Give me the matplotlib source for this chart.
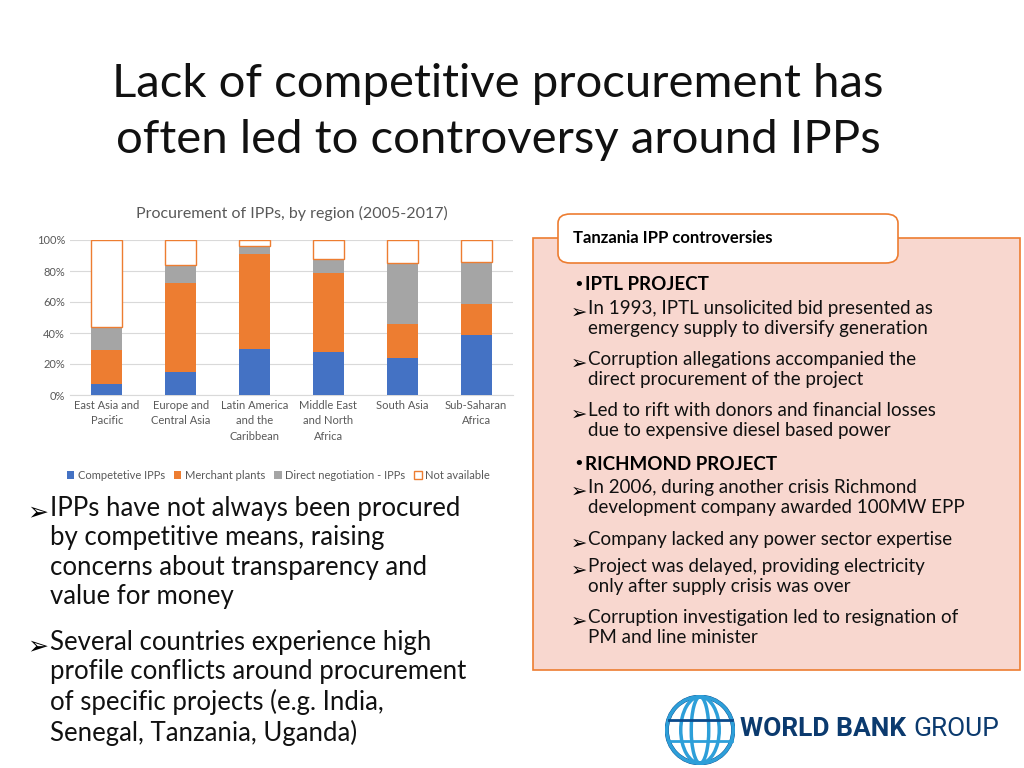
import numpy as np
import matplotlib.pyplot as plt
from matplotlib.patches import FancyBboxPatch, Rectangle, Circle, Arc

regions = ["East Asia and\nPacific", "Europe and\nCentral Asia", "Latin America\nand the\nCaribbean",
           "Middle East\nand North\nAfrica", "South Asia", "Sub-Saharan\nAfrica"]
competitive = [7, 15, 30, 28, 24, 39]
merchant = [22, 57, 61, 51, 22, 20]
direct = [15, 12, 5, 9, 39, 27]
not_avail = [56, 16, 4, 12, 15, 14]

FONT = "Lato"
fig = plt.figure(figsize=(10.24, 7.68), dpi=100)
W, H = 1024, 768
def fx(px): return px / W
def fy(py): return 1 - py / H

# title
fig.text(fx(498), fy(112), "Lack of competitive procurement has\noften led to controversy around IPPs",
         ha="center", va="center", fontsize=34, family=FONT, linespacing=1.4, color="#111111")

# chart
ax = fig.add_axes([fx(70), fy(395), fx(513) - fx(70), fy(240) - fy(395)])
x = np.arange(len(regions))
bw = 0.42
b1 = np.array(competitive)
b2 = b1 + np.array(merchant)
b3 = b2 + np.array(direct)
ax.bar(x, competitive, bw, color="#4472c4", label="Competetive IPPs", zorder=3)
ax.bar(x, merchant, bw, bottom=b1, color="#ed7d31", label="Merchant plants", zorder=3)
ax.bar(x, direct, bw, bottom=b2, color="#a5a5a5", label="Direct negotiation - IPPs", zorder=3)
ax.bar(x, not_avail, bw, bottom=b3, color="white", edgecolor="#ed7d31", lw=1,
       label="Not available", zorder=3)
ax.set_ylim(0, 100)
ax.set_xlim(-0.5, len(regions) - 0.5)
ax.set_yticks(range(0, 101, 20))
ax.set_yticklabels([f"{v}%" for v in range(0, 101, 20)], fontsize=8, color="#595959", family=FONT)
ax.set_xticks(x)
ax.set_xticklabels(regions, fontsize=8, color="#595959", linespacing=1.5, family=FONT)
ax.tick_params(length=0)
ax.grid(axis="y", color="#d9d9d9", lw=0.8, zorder=0)
for s in ax.spines.values():
    s.set_visible(False)
ax.spines["bottom"].set_visible(True)
ax.spines["bottom"].set_color("#d9d9d9")
ax.set_title("Procurement of IPPs, by region (2005-2017)", fontsize=11.5, color="#595959",
             family=FONT, pad=16)
ax.legend(loc="upper center", bbox_to_anchor=(0.47, -0.42), ncol=4, frameon=False,
          prop={"family": FONT, "size": 8}, handlelength=0.7, handletextpad=0.3,
          columnspacing=0.8, labelcolor="#595959")

# left bullets
left = [("IPPs have not always been procured\nby competitive means, raising\nconcerns about transparency and\nvalue for money", 512),
        ("Several countries experience high\nprofile conflicts around procurement\nof specific projects (e.g. India,\nSenegal, Tanzania, Uganda)", 646)]
for txt, py in left:
    fig.text(fx(27), fy(py), "\u27a2", fontsize=18, va="center", family="DejaVu Sans")
    fig.text(fx(50), fy(py) + 0.021, txt, fontsize=18.5, va="top", family=FONT,
             linespacing=1.22, color="#111111")

# right box
fig.patches.append(Rectangle((fx(533), fy(670)), fx(1020) - fx(533), fy(238) - fy(670),
                             transform=fig.transFigure, facecolor="#f8d7cf", edgecolor="#ed7d31", lw=1.2))
fig.patches.append(FancyBboxPatch((fx(558), fy(263)), fx(898) - fx(558), fy(214) - fy(263),
                                  boxstyle="round,pad=0,rounding_size=0.012",
                                  transform=fig.transFigure, facecolor="white", edgecolor="#ed7d31", lw=1.2))
fig.text(fx(573), fy(238), "Tanzania IPP controversies", fontsize=12, weight="bold",
         va="center", family=FONT)

lines = [("b", "IPTL PROJECT", 285),
         ("a", "In 1993, IPTL unsolicited bid presented as\nemergency supply to diversify generation", 312),
         ("a", "Corruption allegations accompanied the\ndirect procurement of the project", 363),
         ("a", "Led to rift with donors and financial losses\ndue to expensive diesel based power", 414),
         ("b", "RICHMOND PROJECT", 464),
         ("a", "In 2006, during another crisis Richmond\ndevelopment company awarded 100MW EPP", 491),
         ("a", "Company lacked any power sector expertise", 543),
         ("a", "Project was delayed, providing electricity\nonly after supply crisis was over", 570),
         ("a", "Corruption investigation led to resignation of\nPM and line minister", 621)]
for kind, txt, py in lines:
    if kind == "b":
        fig.text(fx(573), fy(py), "\u2022", fontsize=13, va="center", family="DejaVu Sans")
        fig.text(fx(585), fy(py), txt, fontsize=13.5, weight="bold", va="center", family=FONT)
    else:
        fig.text(fx(571), fy(py), "\u27a2", fontsize=14, va="center", family="DejaVu Sans")
        fig.text(fx(588), fy(py) + 0.015, txt, fontsize=13.5, va="top", family=FONT,
                 linespacing=1.2, color="#111111")

# logo
lax = fig.add_axes([fx(665), fy(765), fx(735) - fx(665), fy(695) - fy(765)])
lax.set_xlim(-1, 1); lax.set_ylim(-1, 1); lax.set_aspect("equal"); lax.axis("off")
lax.add_patch(Circle((0, 0), 0.95, fill=False, lw=3, color="#0b4a8b"))
for w in [0.5, 1.1, 1.9]:
    lax.add_patch(Arc((0, 0), w, 1.9, lw=2.5, color="#2d9fd9"))
lax.plot([-0.9, 0.9], [0.3, 0.3], color="#0b4a8b", lw=2)
lax.plot([-0.9, 0.9], [-0.3, -0.3], color="#2d9fd9", lw=2)
fig.text(fx(740), fy(729), "WORLD BANK", fontsize=19, weight="bold", color="#0b3a6e",
         va="center", family="Roboto")
fig.text(fx(913), fy(729), "GROUP", fontsize=19, color="#0b3a6e", va="center", family="Roboto")

fig.savefig("out.png", dpi=100)
